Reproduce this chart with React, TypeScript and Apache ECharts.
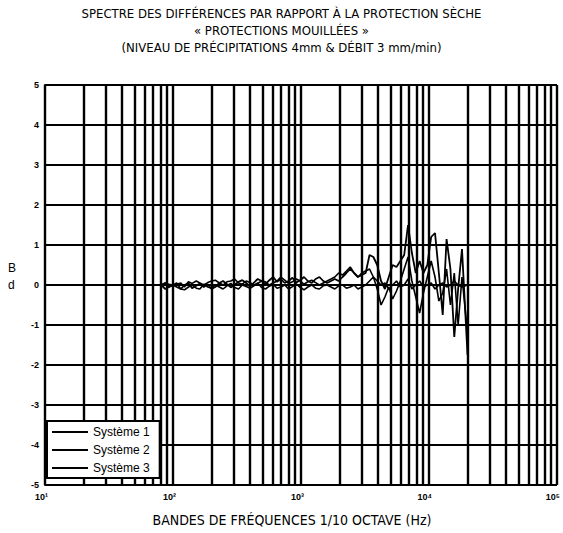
import React, { useEffect, useRef } from "react";
import * as echarts from "echarts";

// 1/10-octave band centre frequencies (Hz)
const FREQ = [
  81, 87, 93,
  100, 107, 115, 123, 132, 141, 152, 162, 174, 187,
  200, 214, 230, 246, 264, 283, 303, 325, 348, 373,
  400, 429, 459, 492, 528, 566, 606, 650, 696, 746,
  800, 857, 919, 985, 1056, 1131, 1213, 1300, 1393, 1493,
  1600, 1715, 1838, 1970, 2111, 2263, 2425, 2599, 2786, 2986,
  3200, 3430, 3676, 3940, 4222, 4525, 4850, 5198, 5572, 5972,
  6400, 6859, 7352, 7879, 8445, 9051, 9701, 10397, 11143, 11943,
  12800, 13719, 14703, 15759, 16890, 18102, 20000,
];

const SYS1 = [
  0.0, -0.1, -0.05,
  0.0, -0.05, -0.1, 0.0, 0.05, -0.08, -0.02, 0.04, -0.05, 0.02,
  -0.1, -0.05, 0.05, 0.1, 0.02, -0.06, 0.0, 0.08, 0.12, 0.05,
  -0.04, 0.06, 0.15, 0.1, 0.02, 0.12, 0.2, 0.08, 0.15, 0.05,
  0.1, 0.18, 0.06, 0.12, 0.2, 0.1, 0.05, 0.15, 0.2, 0.1,
  0.05, 0.1, 0.15, 0.1, 0.2, 0.3, 0.4, 0.3, 0.2, 0.25,
  0.3, 0.75, 0.7, 0.5, 0.1, -0.1, 0.2, 0.5, 0.45, 0.6,
  0.75, 1.5, 0.8, 0.3, 0.6, 0.3, 0.5, 1.2, 1.3, 0.3,
  -0.75, 1.15, 0.4, -1.3, -0.1, 0.9, -1.75,
];

const SYS2 = [
  0.0, 0.05, -0.05,
  0.0, 0.05, -0.1, -0.12, -0.05, 0.0, -0.08, -0.1, 0.02, -0.05,
  -0.08, 0.0, -0.05, -0.1, -0.02, 0.04, -0.06, -0.1, 0.0, -0.04,
  -0.08, -0.02, 0.05, -0.06, -0.1, -0.03, 0.02, -0.08, -0.05, 0.0,
  -0.1, -0.04, 0.03, -0.06, -0.12, -0.05, 0.0, -0.08, -0.1, -0.02,
  0.0, -0.05, -0.1, -0.02, 0.0, -0.08, -0.05, 0.0, -0.1, -0.05,
  0.0, 0.1, 0.2, -0.1, -0.5, -0.3, -0.05, -0.35, -0.15, 0.1,
  0.4, 0.7, 0.1, -0.3, -0.7, -0.2, 0.2, 0.6, 0.2, -0.4,
  -0.2, 0.4, -0.5, 0.3, -1.0, 0.2, -1.2,
];

const SYS3 = [
  0.0, 0.05, 0.02,
  0.0, 0.02, 0.05, -0.05, 0.08, 0.04, 0.1, 0.05, 0.0, 0.06,
  0.1, 0.12, 0.05, 0.0, 0.08, 0.1, 0.15, 0.05, 0.02, 0.1,
  0.06, 0.0, 0.04, 0.1, 0.08, 0.0, 0.05, 0.1, 0.2, 0.12,
  0.04, 0.08, 0.15, 0.1, 0.02, 0.08, 0.12, 0.06, 0.0, 0.05,
  0.1, 0.15, 0.2, 0.3, 0.25, 0.35, 0.45, 0.3, 0.2, 0.3,
  0.35, 0.4, 0.2, 0.1, 0.0, 0.05, -0.1, 0.0, 0.1, -0.05,
  0.0, 0.15, -0.1, 0.0, 0.1, -0.05, 0.0, 0.05, -0.1, 0.0,
  0.05, -0.05, 0.0, 0.1, 0.0, -0.05, 0.0,
];

const SERIES_NAMES = ["Système 1", "Système 2", "Système 3"];
const X_TICK_LABELS: Record<number, string> = {
  10: "10¹",
  100: "10²",
  1000: "10³",
  10000: "10⁴",
  100000: "10⁵",
};

const TITLE = [
  "SPECTRE DES DIFFÉRENCES PAR RAPPORT À LA PROTECTION SÈCHE",
  "« PROTECTIONS MOUILLÉES »",
  "(NIVEAU DE PRÉCIPITATIONS 4mm & DÉBIT 3 mm/min)",
];
const X_TITLE = "BANDES DE FRÉQUENCES 1/10 OCTAVE (Hz)";

const NARROW = "'Liberation Sans Narrow', 'Arial Narrow', 'DejaVu Sans Condensed', sans-serif";
const SANS = "'Liberation Sans', Arial, sans-serif";

export default function App() {
  const ref = useRef<HTMLDivElement>(null);
  useEffect(() => {
    const chart = echarts.init(ref.current!, null, { renderer: "svg" });

    const gridX: number[] = [];
    for (const d of [10, 100, 1000, 10000]) {
      for (let m = 1; m <= 9; m++) gridX.push(m * d);
    }
    gridX.push(100000);

    const sysData = [SYS1, SYS2, SYS3];
    const widths = [1.8, 1.6, 1.6];

    const option: any = {
      animation: false,
      backgroundColor: "#fff",
      title: {
        text: TITLE.join("\n"),
        left: "center",
        top: 0,
        textStyle: {
          fontFamily: NARROW,
          fontSize: 13,
          fontWeight: "normal",
          lineHeight: 17,
          color: "#000",
        },
      },
      grid: { left: 45, top: 85, width: 520, height: 400, containLabel: false },
      legend: {
        data: SERIES_NAMES,
        orient: "vertical",
        left: 47,
        top: 421,
        z: 10,
        backgroundColor: "#fff",
        borderColor: "#000",
        borderWidth: 2,
        borderRadius: 0,
        padding: [5, 10, 4, 5],
        itemGap: 6,
        itemWidth: 36,
        itemHeight: 2,
        itemTextGap: 2,
        icon: "rect",
        textStyle: { fontFamily: SANS, fontSize: 12, color: "#000" },
        selectedMode: false,
      },
      xAxis: {
        type: "log",
        logBase: 10,
        min: 10,
        max: 100000,
        axisLine: { show: true, lineStyle: { color: "#000", width: 2 } },
        axisTick: { show: false },
        splitLine: { show: false },
        axisLabel: {
          color: "#000",
          fontFamily: SANS,
          fontWeight: "bold",
          fontSize: 9,
          margin: 7,
          align: "right",
          padding: [0, -3, 0, 0],
          showMaxLabel: true,
          formatter: (v: number) => X_TICK_LABELS[Math.round(v)] ?? "",
        },
      },
      yAxis: {
        type: "value",
        min: -5,
        max: 5,
        interval: 1,
        axisLine: { show: true, lineStyle: { color: "#000", width: 2 } },
        axisTick: { show: false },
        splitLine: { show: true, lineStyle: { color: "#000", width: 2 } },
        axisLabel: {
          color: "#000",
          fontFamily: SANS,
          fontWeight: "bold",
          fontSize: 9,
          margin: 6,
        },
      },
      graphic: [
        {
          type: "text",
          left: 8,
          top: 259,
          style: {
            text: "B\nd",
            fontFamily: SANS,
            fontSize: 12,
            lineHeight: 17,
            fill: "#000",
            align: "center",
          },
        },
        {
          type: "text",
          x: 292,
          y: 520,
          style: {
            text: X_TITLE,
            fontFamily: NARROW,
            fontSize: 14,
            fill: "#000",
            align: "center",
            verticalAlign: "middle",
          },
        },
      ],
      series: [
        {
          name: "__grid",
          type: "line",
          data: [[100, 0]],
          showSymbol: false,
          symbol: "none",
          lineStyle: { opacity: 0 },
          silent: true,
          z: 1,
          markLine: {
            silent: true,
            z: 1,
            symbol: "none",
            label: { show: false },
            lineStyle: { color: "#000", width: 2.4, type: "solid" },
            data: gridX.map((x) => ({ xAxis: x })),
          },
        },
        ...SERIES_NAMES.map((name, k) => ({
          name,
          type: "line",
          data: FREQ.map((f, i) => [f, sysData[k][i]]),
          showSymbol: false,
          symbol: "none",
          z: 3,
          lineStyle: { color: "#000", width: widths[k] },
          itemStyle: { color: "#000" },
        })),
      ],
    };

    chart.setOption(option);
    return () => chart.dispose();
  }, []);

  return (
    <div
      ref={ref}
      style={{ position: "fixed", left: 0, top: 0, width: 563, height: 533 }}
    />
  );
}
